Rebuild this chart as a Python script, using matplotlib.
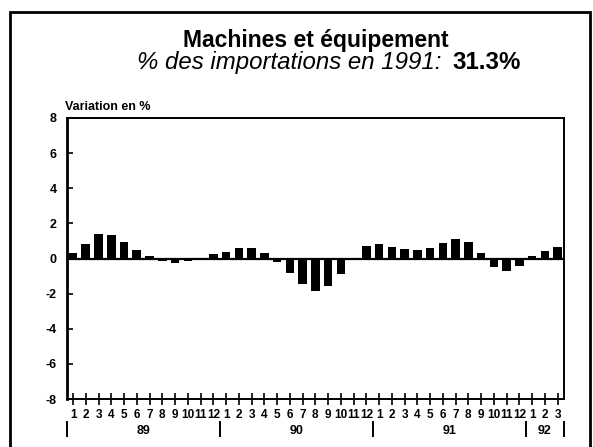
import matplotlib
matplotlib.use("Agg")
import matplotlib.pyplot as plt
from matplotlib.patches import Rectangle
from matplotlib.transforms import blended_transform_factory
import numpy as np

plt.rcParams['font.family'] = ['Liberation Sans', 'DejaVu Sans']

# Monthly change (%), Jan 1989 - Mar 1992
values_89 = [0.31, 0.85, 1.38, 1.31, 0.92, 0.48, 0.15, -0.17, -0.23, -0.14, -0.03, 0.23]
values_90 = [0.35, 0.58, 0.62, 0.31, -0.21, -0.81, -1.44, -1.85, -1.58, -0.90, 0.03, 0.70]
values_91 = [0.80, 0.67, 0.52, 0.48, 0.58, 0.90, 1.12, 0.96, 0.29, -0.48, -0.73, -0.44]
values_92 = [0.13, 0.42, 0.67]
years = ["89", "90", "91", "92"]
month_labels = [str(m) for m in range(1, 13)] * 3 + ["1", "2", "3"]
y_ticks = [-8, -6, -4, -2, 0, 2, 4, 6, 8]

values = values_89 + values_90 + values_91 + values_92
x = np.arange(1, len(values) + 1)

W, H = 593, 447
fig = plt.figure(figsize=(W / 100, H / 100), dpi=100)
fig.patch.set_facecolor('white')

def fy(py):
    return 1 - py / H

ax = fig.add_axes([66.7 / W, fy(399), (564 - 66.7) / W, (399 - 118) / H])
ax.bar(x, values, width=0.68, color='black', zorder=3)
ax.axhline(0, color='black', lw=1.6, zorder=4)
ax.set_xlim(0.5, len(values) + 0.5)
ax.set_ylim(-8, 8)
ax.set_yticks(y_ticks)
ax.set_yticklabels([str(t) for t in y_ticks], fontweight='bold', fontsize=9)
ax.set_xticks(x)
ax.set_xticklabels(month_labels, fontweight='bold', fontsize=8.5)
ax.tick_params(axis='y', direction='in', length=4, width=1.2, pad=7)
ax.tick_params(axis='x', direction='inout', length=8, width=1.2, pad=3)
for s in ax.spines.values():
    s.set_linewidth(1.4)
ax.spines['left'].set_linewidth(2)

# Year separators and labels
trans = blended_transform_factory(ax.transData, fig.transFigure)
sep_x = [0.5, 12.5, 24.5, 36.5, 39.5]
for sx in sep_x:
    ax.plot([sx, sx], [fy(422), fy(436)], color='black', lw=1.4,
            transform=trans, clip_on=False)
year_centers = [6.5, 18.5, 30.5, 38.0]
for xc, yl in zip(year_centers, years):
    ax.text(xc, fy(431), yl, transform=trans, ha='center', va='center',
            fontweight='bold', fontsize=9)

# Titles
fig.text(315.5 / W, fy(47), "Machines et équipement", ha='center', va='baseline',
         fontweight='bold', fontsize=16.5)
fig.text(441 / W, fy(69), "% des importations en 1991:", ha='right', va='baseline',
         fontstyle='italic', fontsize=17.3)
fig.text(452 / W, fy(69), "31.3%", ha='left', va='baseline',
         fontweight='bold', fontsize=17.3)
fig.text(65 / W, fy(110), "Variation en %", ha='left', va='baseline',
         fontweight='bold', fontsize=9)

# Outer frame
fig.add_artist(Rectangle((10 / W, -0.05), (590 - 10) / W, 1.05 - 12 / H,
                         transform=fig.transFigure, fill=False, lw=2,
                         edgecolor='black', clip_on=False))

fig.savefig("out.png", dpi=100)
